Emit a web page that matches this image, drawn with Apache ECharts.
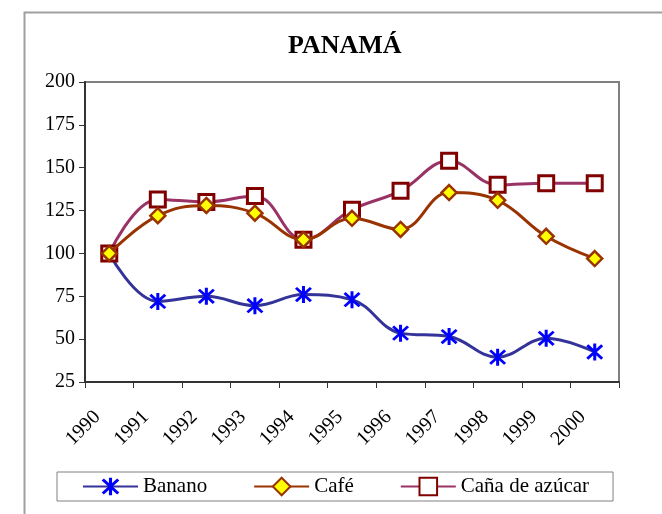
<!DOCTYPE html>
<html>
<head>
<meta charset="utf-8">
<script src="https://cdn.jsdelivr.net/npm/echarts@6/dist/echarts.min.js"></script>
<style>
html,body{margin:0;padding:0;background:#fff;}
#chart{width:662px;height:514px;}
</style>
</head>
<body>
<div id="chart"></div>
<script>
var years = ['1990','1991','1992','1993','1994','1995','1996','1997','1998','1999','2000'];
var banano = [100, 72, 75, 69.5, 76, 73, 53.5, 51.5, 39.5, 50.5, 42.5];
var cafe = [100, 122, 128, 123.5, 108, 120.5, 114, 135.5, 131, 110, 97];
var cana = [100, 131.5, 130, 133.5, 108, 125.5, 136.5, 154, 140, 141, 141];
var yTicks = {min: 25, max: 200, interval: 25};

var serif = 'Liberation Serif';
var starPath = 'path://M42 0 L58 0 L58 100 L42 100 Z M5 16 L16 5 L95 84 L84 95 Z M84 5 L95 16 L16 95 L5 84 Z';

var chart = echarts.init(document.getElementById('chart'), null, {renderer: 'canvas'});
chart.setOption({
  backgroundColor: '#ffffff',
  animation: false,
  graphic: [{
    type: 'rect', left: 22, top: 10, z: -10,
    shape: {x: 0, y: 0, width: 700, height: 600},
    style: {fill: 'none', stroke: '#a0a0a0', lineWidth: 2}
  }],
  title: {
    text: 'PANAMÁ', left: 283, top: 28,
    textStyle: {fontFamily: serif, fontWeight: 'bold', fontSize: 26, color: '#000'}
  },
  grid: {left: 85, right: 43, top: 82, bottom: 132, show: true, borderColor: '#808080', borderWidth: 2, backgroundColor: 'transparent'},
  legend: {
    left: 57, top: 472,
    padding: [4, 24, 4, 25],
    borderColor: '#808080', borderWidth: 1,
    itemWidth: 55, itemHeight: 22, itemGap: 46,
    textStyle: {fontFamily: serif, fontSize: 21, color: '#000'},
    data: ['Banano', 'Café', 'Caña de azúcar']
  },
  xAxis: {
    type: 'category', data: years, boundaryGap: true,
    axisLine: {lineStyle: {color: '#333', width: 2}},
    axisTick: {show: true, length: 6, lineStyle: {color: '#333'}},
    axisLabel: {rotate: 45, margin: 20, padding: [0, 17, 0, 0], interval: 0,
      fontFamily: serif, fontSize: 20, color: '#000'},
    splitLine: {show: false}
  },
  yAxis: {
    type: 'value', min: yTicks.min, max: yTicks.max, interval: yTicks.interval,
    axisLine: {show: true, lineStyle: {color: '#333', width: 2}},
    axisTick: {show: true, length: 6, lineStyle: {color: '#333'}},
    axisLabel: {margin: 10, fontFamily: serif, fontSize: 20, color: '#000'},
    splitLine: {show: false}
  },
  series: [
    {
      name: 'Banano', type: 'line', data: banano, smooth: 0.4, z: 2,
      symbol: starPath, symbolSize: 17,
      lineStyle: {color: '#333399', width: 3},
      itemStyle: {color: '#0000ff', borderWidth: 0}
    },
    {
      name: 'Caña de azúcar', type: 'line', data: cana, smooth: 0.4, z: 3,
      symbol: 'rect', symbolSize: 15,
      lineStyle: {color: '#993366', width: 3},
      itemStyle: {color: '#ffffff', borderColor: '#800000', borderWidth: 3}
    },
    {
      name: 'Café', type: 'line', data: cafe, smooth: 0.4, z: 4,
      symbol: 'diamond', symbolSize: 15,
      lineStyle: {color: '#993300', width: 3},
      itemStyle: {color: '#ffff00', borderColor: '#993300', borderWidth: 2.5}
    }
  ]
});
</script>
</body>
</html>
